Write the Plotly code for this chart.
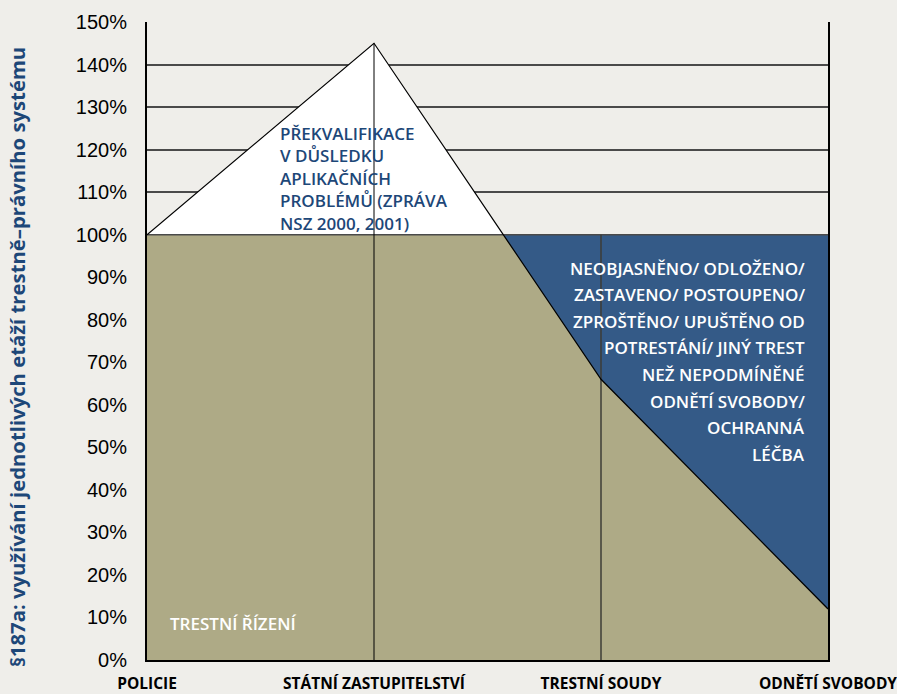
import plotly.graph_objects as go

# ---- data ----
stages = ["POLICIE", "STÁTNÍ ZASTUPITELSTVÍ", "TRESTNÍ SOUDY", "ODNĚTÍ SVOBODY"]
usage = [100, 145, 66, 12]          # % využívání
baseline = [100, 100, 100, 100]      # 100 % úroveň
y_ticks = list(range(0, 151, 10))
y_tick_labels = [f"{v}%" for v in y_ticks]

label_top = ["PŘEKVALIFIKACE", "V DŮSLEDKU", "APLIKAČNÍCH", "PROBLÉMŮ (ZPRÁVA", "NSZ 2000, 2001)"]
label_blue = ["NEOBJASNĚNO/ ODLOŽENO/", "ZASTAVENO/ POSTOUPENO/", "ZPROŠTĚNO/ UPUŠTĚNO OD",
              "POTRESTÁNÍ/ JINÝ TREST", "NEŽ NEPODMÍNĚNÉ", "ODNĚTÍ SVOBODY/", "OCHRANNÁ", "LÉČBA"]
label_base = "TRESTNÍ ŘÍZENÍ"
y_title = "§187a: využívání jednotlivých etáží trestně–právního systému"

x = list(range(len(stages)))

# capped series (min of usage and baseline) incl. crossing points
cx, cy = [], []
for i in range(len(x)):
    if i > 0:
        y0, y1 = usage[i - 1], usage[i]
        b0, b1 = baseline[i - 1], baseline[i]
        if (y0 - b0) * (y1 - b1) < 0:
            t = (b0 - y0) / ((y1 - y0) - (b1 - b0))
            cx.append(x[i - 1] + t)
            cy.append(b0 + t * (b1 - b0))
    cx.append(x[i])
    cy.append(min(usage[i], baseline[i]))

BG = "#efeeea"
OLIVE = "#aeaa86"
BLUE = "#345a87"
NAVY = "#1d4778"
GRID = "#4a4a4a"

fig = go.Figure()
fig.add_trace(go.Scatter(x=x, y=usage, fill="tozeroy", fillcolor="white",
                         mode="lines", line=dict(width=0), hoverinfo="skip"))
fig.add_trace(go.Scatter(x=x, y=baseline, fill="tozeroy", fillcolor=BLUE,
                         mode="lines", line=dict(width=0), hoverinfo="skip"))
fig.add_trace(go.Scatter(x=cx, y=cy, fill="tozeroy", fillcolor=OLIVE,
                         mode="lines", line=dict(width=0), hoverinfo="skip"))
fig.add_trace(go.Scatter(x=x, y=baseline, mode="lines",
                         line=dict(width=1.5, color=GRID), hoverinfo="skip"))
# vertical stage lines
fig.add_trace(go.Scatter(x=[x[1], x[1]], y=[0, usage[1]], mode="lines",
                         line=dict(width=1, color="black"), hoverinfo="skip"))
fig.add_trace(go.Scatter(x=[x[2], x[2]], y=[0, baseline[2]], mode="lines",
                         line=dict(width=1.5, color="#3c3c36"), hoverinfo="skip"))
fig.add_trace(go.Scatter(x=x, y=usage, mode="lines",
                         line=dict(width=1.2, color="black"), hoverinfo="skip"))

# ---- pixel helpers for label placement ----
L, R, T, B = 147, 828, 22, 660
def px2x(px):
    return (px - L) / (R - L) * (len(x) - 1)
def py2y(py):
    return (B - py) / (B - T) * 150

ann = []
for i, t in enumerate(label_top):
    ann.append(dict(x=px2x(278), y=py2y(133 + i * 22.5), xref="x", yref="y", text=t,
                    showarrow=False, xanchor="left", yanchor="middle",
                    font=dict(family="Open Sans", size=17, color=NAVY, weight=600)))
for i, t in enumerate(label_blue):
    ann.append(dict(x=px2x(807), y=py2y(268 + i * 26.6), xref="x", yref="y", text=t,
                    showarrow=False, xanchor="right", yanchor="middle",
                    font=dict(family="Open Sans", size=17, color="white", weight=600)))
ann.append(dict(x=px2x(168), y=py2y(623), xref="x", yref="y", text=label_base,
                showarrow=False, xanchor="left", yanchor="middle",
                font=dict(family="Open Sans", size=17, color="white", weight=600)))
ann.append(dict(x=(17 - L) / (R - L), y=(B - 357) / (B - T), xref="paper", yref="paper",
                text=y_title, textangle=-90, showarrow=False,
                xanchor="center", yanchor="middle",
                font=dict(family="Open Sans", size=20.3, color=NAVY, weight=700)))

fig.update_layout(
    width=897, height=694,
    margin=dict(l=L, r=897 - R, t=T, b=694 - B, autoexpand=False),
    paper_bgcolor=BG, plot_bgcolor=BG,
    showlegend=False,
    annotations=ann,
    xaxis=dict(range=[0, len(x) - 1], tickvals=x, ticktext=stages, automargin=False,
               ticklabeloverflow="allow",
               showgrid=False, zeroline=False, showline=True, linecolor="black",
               linewidth=2, ticks="outside", ticklen=8, tickcolor=BG,
               tickfont=dict(family="Open Sans", size=15.5, color="black", weight=700)),
    yaxis=dict(range=[0, 150], tickvals=y_ticks, ticktext=y_tick_labels, automargin=False,
               showgrid=True, gridcolor=GRID, gridwidth=1.5, zeroline=False,
               showline=True, linecolor="black", linewidth=2, mirror=True,
               ticks="outside", ticklen=14, tickcolor=BG,
               tickfont=dict(family="Liberation Sans", size=20, color="black")),
)

fig.write_html("out.html", config={"displayModeBar": False},
               post_script="document.body.style.margin='0';")
